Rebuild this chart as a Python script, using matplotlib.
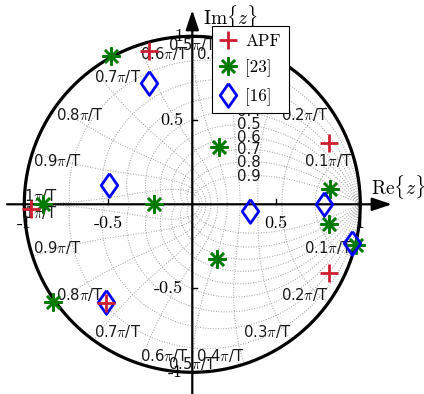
import numpy as np
import matplotlib
matplotlib.use("Agg")
import matplotlib.pyplot as plt

plt.rcParams['mathtext.fontset'] = 'cm'

# ---- data ----
apf_re = [-0.260, 0.811, 0.815, -0.960, -0.513]
apf_im = [0.913, 0.365, -0.409, -0.030, -0.590]

ref23_re = [-0.484, 0.157, -0.891, -0.226, 0.820, 0.811, 0.974, 0.147, -0.831]
ref23_im = [0.881, 0.342, 0.000, 0.000, 0.093, -0.115, -0.244, -0.328, -0.580]

ref16_re = [-0.260, -0.494, 0.343, 0.786, 0.948, -0.513]
ref16_im = [0.722, 0.114, -0.038, 0.004, -0.230, -0.580]

series_names = ['APF', '[23]', '[16]']
zeta_vals = [0.1, 0.2, 0.3, 0.4, 0.5, 0.6, 0.7, 0.8, 0.9]
wn_vals = [0.1, 0.2, 0.3, 0.4, 0.5, 0.6, 0.7, 0.8, 0.9, 1.0]   # times pi/T
tick_vals = [-1, -0.5, 0.5, 1]
tick_labels = ['-1', '-0.5', '0.5', '1']

# ---- figure ----
W, H = 424, 394
fig = plt.figure(figsize=(W / 100, H / 100), dpi=100)
ax = fig.add_axes([0, 0, 1, 1])
ax.axis('off')
cx, cy, sc = 192.3, 204.3, 168.0
ax.set_xlim(-cx / sc, (W - cx) / sc)
ax.set_ylim(-(H - cy) / sc, cy / sc)

gcol = '0.62'
glw = 0.7
lab_fs = 10.7
# damping-ratio curves
zeta_label_x = 0.264
for z in zeta_vals:
    s = np.sqrt(1 - z * z)
    w = np.linspace(0, np.pi / s, 400)
    zz = np.exp(w * (-z + 1j * s))
    ax.plot(zz.real, zz.imag, ls=':', color=gcol, lw=glw, zorder=1)
    ax.plot(zz.real, -zz.imag, ls=':', color=gcol, lw=glw, zorder=1)
    idx = np.argmax(zz.real < zeta_label_x)
    yl = np.interp(zeta_label_x, [zz.real[idx], zz.real[idx - 1]], [zz.imag[idx], zz.imag[idx - 1]])
    ax.text(zeta_label_x, yl, f'{z:g}', ha='left', va='center', fontsize=lab_fs,
            family='DejaVu Sans', color='0.1', zorder=2)

# natural-frequency curves
for k in wn_vals:
    wn = k * np.pi
    zt = np.linspace(0, 1, 200)
    zz = np.exp(wn * (-zt + 1j * np.sqrt(1 - zt ** 2)))
    ax.plot(zz.real, zz.imag, ls=':', color=gcol, lw=glw, zorder=1)
    ax.plot(zz.real, -zz.imag, ls=':', color=gcol, lw=glw, zorder=1)
    px, py = np.cos(wn), np.sin(wn)
    if px > 0.01:
        ha = 'right'
    elif px < -0.01:
        ha = 'left'
    else:
        ha = 'center'
    lab = f'{k:g}' + r'$\pi$' + '/T'
    ax.text(px, py, lab, ha=ha, va='top', fontsize=lab_fs, family='DejaVu Sans', color='0.1', zorder=2)
    ax.text(px, -py, lab, ha=ha, va='bottom', fontsize=lab_fs, family='DejaVu Sans', color='0.1', zorder=2)

# unit circle
th = np.linspace(0, 2 * np.pi, 500)
ax.plot(np.cos(th), np.sin(th), color='k', lw=2.3, zorder=3)

# axes with arrows
arr = dict(arrowstyle='-|>,head_length=0.6,head_width=0.2', lw=1.6, color='k',
           mutation_scale=20, shrinkA=0, shrinkB=0)
ax.annotate('', xy=(1.188, 0), xytext=(-1.103, 0), arrowprops=arr, zorder=4)
ax.annotate('', xy=(0, 1.156), xytext=(0, -1.14), arrowprops=arr, zorder=4)
for v, lab in zip(tick_vals, tick_labels):
    ax.plot([v, v], [0, 0.03], color='k', lw=1.0, zorder=4)
    ax.plot([0, 0.03], [v, v], color='k', lw=1.0, zorder=4)
    ax.text(v, -0.07, lab, ha='center', va='top', fontsize=13, family='cmr10', zorder=4)
    ax.text(-0.055, v, lab, ha='right', va='center', fontsize=13, family='cmr10', zorder=4)

ax.text((371 - cx) / sc, (cy - 187) / sc, r'$\mathrm{Re}\{z\}$', ha='left', va='center', fontsize=14)
ax.text((203 - cx) / sc, (cy - 3) / sc, r'$\mathrm{Im}\{z\}$', ha='left', va='top', fontsize=14)

# markers
diamond = [(0, 1), (0.7, 0), (0, -1), (-0.7, 0), (0, 1)]
h1, = ax.plot(apf_re, apf_im, ls='none', marker='+', ms=13, mew=2.0, color='#cc1f32', zorder=6)
h2, = ax.plot(ref23_re, ref23_im, ls='none', marker=(8, 2, 0), ms=13, mew=1.8, color='#007a00', zorder=5)
h3, = ax.plot(ref16_re, ref16_im, ls='none', marker=diamond, ms=17, mew=2.0, mfc='none', mec='#0000ff', zorder=5)

leg = ax.legend([h1, h2, h3], series_names, loc='upper left', bbox_to_anchor=(212 / W, 1 - 26 / H),
                bbox_transform=fig.transFigure, borderaxespad=0, fancybox=False, framealpha=1,
                edgecolor='k', prop={'family': 'cmr10', 'size': 12.3}, handlelength=1.0,
                handletextpad=0.5, labelspacing=0.62, borderpad=0.45)
leg.get_frame().set_linewidth(0.8)
leg.set_zorder(10)

fig.savefig('out.png', dpi=100)
